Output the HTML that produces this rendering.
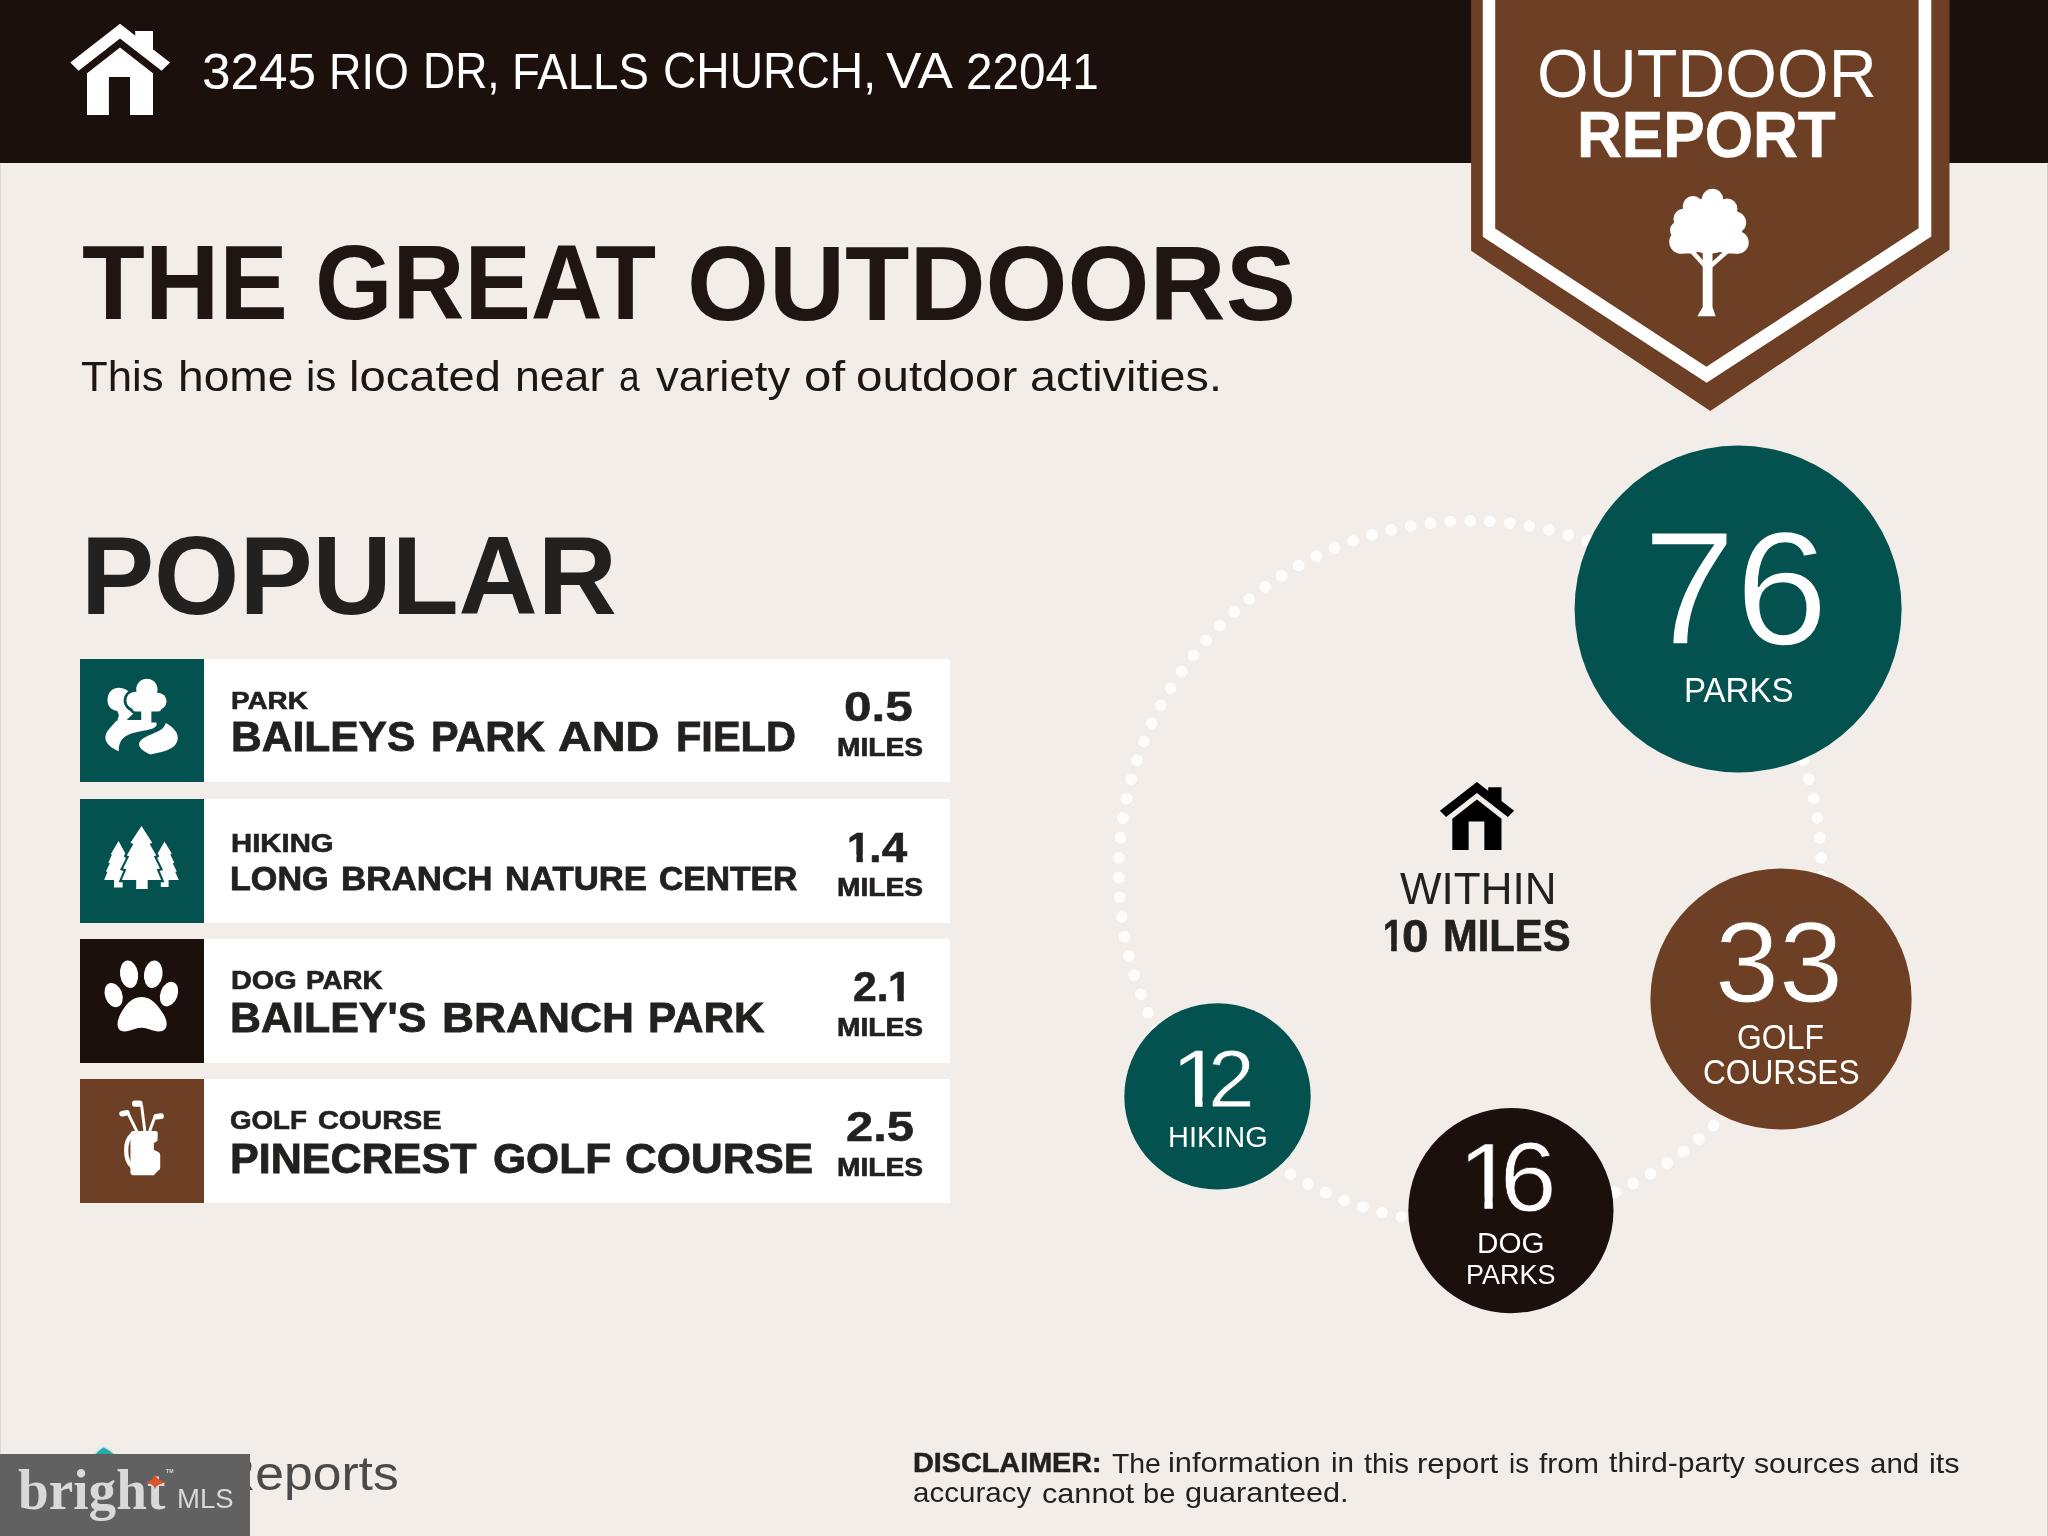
<!DOCTYPE html>
<html><head><meta charset="utf-8"><title>Outdoor Report</title>
<style>
html,body{margin:0;padding:0}
body{width:2048px;height:1536px;background:#f2ede9;position:relative;overflow:hidden;font-family:"Liberation Sans",sans-serif}
.hdr{position:absolute;left:0;top:0;width:2048px;height:163px;background:#1c100c}
.gfx{position:absolute;left:0;top:0}
.t{position:absolute;white-space:pre;transform-origin:0 0;line-height:1}
.txt{position:absolute;left:0;top:0;width:2048px;height:1536px;will-change:transform}
.bar{position:absolute;left:204px;width:746.1px;height:123.5px;background:#fff}
.ibox{position:absolute;left:80.4px;width:123.9px;height:123.5px}
.wm{position:absolute;left:0;top:1454px;width:250px;height:82px;background:#616161;z-index:4}
.star{position:absolute;left:0;top:0;z-index:6}
</style></head><body>
<div class="hdr"></div>
<div style="position:absolute;left:0;top:164px;width:1px;height:1290px;background:#ddd8d5"></div><div style="position:absolute;left:2047px;top:164px;width:1px;height:1372px;background:#cfcac7"></div>
<div class="bar" style="top:658.8px"></div><div class="ibox" style="top:658.8px;background:#03524f"></div>
<div class="bar" style="top:799.0px"></div><div class="ibox" style="top:799.0px;background:#03524f"></div>
<div class="bar" style="top:939.3px"></div><div class="ibox" style="top:939.3px;background:#1c100c"></div>
<div class="bar" style="top:1079.4px"></div><div class="ibox" style="top:1079.4px;background:#6d4025"></div>
<svg class="gfx" width="2048" height="1536" viewBox="0 0 2048 1536">
<polygon points="1471.1,0 1949.5,0 1949.5,249.8 1710.3,411 1471.1,250.8" fill="#6d4025"/>
<path d="M1482.8 0 L1482.8 236.8 L1706.6 382.8 L1931.3 236.5 L1931.3 0 L1918.6 0 L1918.6 228.3 L1706.4 366.7 L1495.2 228.6 L1495.2 0 Z" fill="#fff"/>
<g transform="translate(1650,180) scale(0.09766)">
<g fill="#fff">
<circle cx="640" cy="200" r="110"/><circle cx="440" cy="270" r="105"/><circle cx="790" cy="295" r="105"/>
<circle cx="345" cy="400" r="105"/><circle cx="875" cy="435" r="110"/>
<circle cx="300" cy="515" r="95"/><circle cx="315" cy="635" r="118"/><circle cx="895" cy="640" r="116"/>
<ellipse cx="605" cy="470" rx="345" ry="285"/>
<path d="M250 600 L960 600 L900 752 L800 752 L700 735 L500 735 L420 752 L300 752 Z"/>
<path d="M540 740 L640 740 L640 1300 L672 1395 L485 1395 L540 1300 Z"/>
</g>
<g fill="none" stroke="#fff" stroke-width="46">
<path d="M575 890 L415 715"/><path d="M610 890 L790 730"/>
</g>
</g>
<polygon points="120.00,23.75 170.00,62.50 161.60,70.75 120.00,38.60 78.60,70.75 70.30,62.50" fill="#fff"/><polygon points="135.20,31.00 153.00,31.00 153.00,52.00 135.20,38.00" fill="#fff"/><polygon points="120.00,47.50 153.00,73.30 153.00,115.00 130.00,115.00 130.00,77.00 108.90,77.00 108.90,115.00 87.00,115.00 87.00,73.30" fill="#fff"/>
<polygon points="1476.90,781.90 1514.15,810.77 1507.89,816.91 1476.90,792.96 1446.06,816.91 1439.87,810.77" fill="#000"/><polygon points="1488.22,787.30 1501.49,787.30 1501.49,802.95 1488.22,792.52" fill="#000"/><polygon points="1476.90,799.59 1501.49,818.81 1501.49,849.88 1484.35,849.88 1484.35,821.57 1468.63,821.57 1468.63,849.88 1452.32,849.88 1452.32,818.81" fill="#000"/>
<circle cx="1470.1" cy="872.3" r="351.4" fill="none" stroke="#fffdfb" stroke-width="11.6" stroke-linecap="round" stroke-dasharray="0 19.8913" transform="rotate(0.703 1470.1 872.3)"/>
<circle cx="1738.1" cy="609" r="163.5" fill="#03524f"/>
<circle cx="1781" cy="999" r="130.6" fill="#6d4025"/>
<circle cx="1217.5" cy="1096.4" r="93.2" fill="#03524f"/>
<circle cx="1510.9" cy="1210.6" r="102.6" fill="#1c100c"/>
<g transform="translate(80,657.8) scale(0.08203)">
<g fill="#fff">
<path d="M470 365 C 600 365, 650 470, 620 560 L 650 690 L 575 750 L 575 810 L 440 810 L 475 700 L 455 650 C 380 640, 335 590, 335 515 C 335 430, 390 365, 470 365 Z"/>
<path d="M440 770 C 560 800, 760 790, 930 790 C 960 870, 820 880, 700 905 C 540 935, 470 1000, 472 1140 C 380 1100, 300 1040, 310 960 C 320 880, 400 830, 440 770 Z"/>
<path d="M1045 795 C 1150 850, 1215 930, 1185 1020 C 1150 1120, 1000 1150, 860 1178 C 760 1140, 700 1080, 725 1030 C 760 960, 900 930, 980 880 C 1020 855, 1035 830, 1045 795 Z"/>
</g>
<rect x="560" y="756" width="200" height="60" fill="#fff"/>
<g fill="#03524f" stroke="#03524f" stroke-width="66">
<circle cx="815" cy="385" r="130"/><circle cx="670" cy="520" r="105"/><circle cx="950" cy="530" r="105"/>
<rect x="640" y="520" width="350" height="135" rx="40"/>
<rect x="745" y="600" width="125" height="122"/>
</g>
<g fill="#fff">
<circle cx="815" cy="385" r="130"/><circle cx="670" cy="520" r="105"/><circle cx="950" cy="530" r="105"/>
<rect x="640" y="520" width="350" height="135" rx="40"/>
<rect x="700" y="400" width="220" height="200"/>
<rect x="745" y="600" width="125" height="230"/>
</g>
<path d="M578 756 L745 756 L745 680 L650 680 Z" fill="#03524f"/>
</g><g transform="translate(80,798.0) scale(0.08203)">
<g fill="#fff">
<path d="M470 525 L560 690 L540 700 L600 810 L510 1000 L520 1000 L520 1090 L415 1090 L415 1000 L295 1000 L335 900 L315 895 L365 795 L345 790 L390 690 L375 685 Z"/>
<path d="M1030 530 L1120 680 L1100 690 L1150 790 L1130 795 L1180 895 L1160 900 L1205 1000 L1080 1000 L1080 1085 L985 1085 L985 1000 L990 1000 L900 810 L960 700 L940 690 Z"/>
</g>
<path d="M750 340 L880 545 L850 560 L930 700 L900 710 L975 860 L935 870 L990 1000 L825 1000 L825 1110 L685 1110 L685 1000 L510 1000 L565 870 L525 860 L600 710 L570 700 L650 560 L615 545 Z" fill="#fff" stroke="#03524f" stroke-width="52" paint-order="stroke"/>
</g><g transform="translate(80,938.3) scale(0.08203)">
<g fill="#fff">
<ellipse cx="410" cy="692" rx="105" ry="152" transform="rotate(-20 410 692)"/>
<ellipse cx="598" cy="438" rx="110" ry="168" transform="rotate(-8 598 438)"/>
<ellipse cx="893" cy="438" rx="113" ry="168" transform="rotate(8 893 438)"/>
<ellipse cx="1085" cy="680" rx="105" ry="155" transform="rotate(20 1085 680)"/>
<path d="M750 715 C 880 715, 960 830, 1020 930 C 1080 1030, 1070 1135, 960 1135 C 880 1135, 830 1090, 750 1090 C 670 1090, 620 1135, 545 1135 C 440 1135, 440 1030, 490 930 C 540 830, 620 715, 750 715 Z"/>
</g>
</g><g transform="translate(80,1078.4) scale(0.08203)">
<g fill="none" stroke="#fff" stroke-width="36" stroke-linecap="round">
<path d="M690 640 L595 445"/>
<path d="M790 640 L752 335"/>
<path d="M850 640 L912 470"/>
<path d="M632 690 C 540 760, 540 1000, 632 1068" stroke-width="52"/>
</g>
<g fill="#fff">
<rect x="478" y="392" width="130" height="68" rx="34" transform="rotate(-10 540 426)"/>
<rect x="633" y="268" width="130" height="78" rx="38"/>
<rect x="895" y="428" width="128" height="70" rx="35" transform="rotate(-8 960 463)"/>
<path d="M650 640 L920 640 Q950 640 948 675 L945 760 L900 790 L900 870 L960 900 Q978 910 978 940 L978 1090 Q978 1120 950 1125 L900 1180 L650 1180 Q615 1180 615 1140 L615 680 Q615 640 650 640 Z"/>
</g>
</g>
<path d="M93 1457 Q97 1450 103.75 1446.6 Q111 1450 118 1457 Z" fill="#2aa9a6" stroke="#c9ebe8" stroke-width="1.2"/>
</svg>
<div class="txt">
<div class="t" id="addr0" style="left:202.08px;top:47.70px;font:400 49.82px/1 'Liberation Sans', sans-serif;color:#fff;transform:scaleX(1.0294);">3245</div>
<div class="t" id="addr1" style="left:329.24px;top:47.70px;font:400 49.82px/1 'Liberation Sans', sans-serif;color:#fff;transform:scaleX(0.9018);">RIO</div>
<div class="t" id="addr2" style="left:422.77px;top:46.88px;font:400 49.82px/1 'Liberation Sans', sans-serif;color:#fff;transform:scaleX(0.8938);">DR,</div>
<div class="t" id="addr3" style="left:512.20px;top:47.70px;font:400 49.82px/1 'Liberation Sans', sans-serif;color:#fff;transform:scaleX(0.9147);">FALLS</div>
<div class="t" id="addr4" style="left:662.68px;top:47.43px;font:400 49.82px/1 'Liberation Sans', sans-serif;color:#fff;transform:scaleX(0.9273);">CHURCH,</div>
<div class="t" id="addr5" style="left:886.24px;top:47.20px;font:400 49.82px/1 'Liberation Sans', sans-serif;color:#fff;transform:scaleX(1.0658);">VA</div>
<div class="t" id="addr6" style="left:965.60px;top:47.70px;font:400 49.82px/1 'Liberation Sans', sans-serif;color:#fff;transform:scaleX(0.9579);">22041</div>
<div class="t" id="outdoor" style="left:1536.84px;top:39.16px;font:400 69.18px/1 'Liberation Sans', sans-serif;color:#fff;transform:scaleX(0.9609);">OUTDOOR</div>
<div class="t" id="report" style="left:1577.37px;top:101.92px;font:700 65.31px/1 'Liberation Sans', sans-serif;color:#fff;transform:scaleX(0.9508);-webkit-text-stroke:0.63px #fff;">REPORT</div>
<div class="t" id="the" style="left:81.97px;top:229.09px;font:700 106.04px/1 'Liberation Sans', sans-serif;color:#1f1511;transform:scaleX(0.9711);">THE</div>
<div class="t" id="great" style="left:314.51px;top:229.09px;font:700 106.04px/1 'Liberation Sans', sans-serif;color:#1f1511;transform:scaleX(0.9392);">GREAT</div>
<div class="t" id="outdoors" style="left:686.57px;top:229.54px;font:700 106.04px/1 'Liberation Sans', sans-serif;color:#1f1511;transform:scaleX(0.9941);">OUTDOORS</div>
<div class="t" id="sub0" style="left:81.01px;top:356.07px;font:400 42.30px/1 'Liberation Sans', sans-serif;color:#1f1511;transform:scaleX(1.0321);">This</div>
<div class="t" id="sub1" style="left:177.72px;top:356.07px;font:400 42.30px/1 'Liberation Sans', sans-serif;color:#1f1511;transform:scaleX(1.0896);">home</div>
<div class="t" id="sub2" style="left:306.06px;top:356.07px;font:400 42.30px/1 'Liberation Sans', sans-serif;color:#1f1511;transform:scaleX(0.9927);">is</div>
<div class="t" id="sub3" style="left:349.31px;top:356.20px;font:400 42.30px/1 'Liberation Sans', sans-serif;color:#1f1511;transform:scaleX(1.1143);">located</div>
<div class="t" id="sub4" style="left:515.43px;top:356.04px;font:400 42.30px/1 'Liberation Sans', sans-serif;color:#1f1511;transform:scaleX(1.0545);">near</div>
<div class="t" id="sub5" style="left:619.31px;top:356.04px;font:400 42.30px/1 'Liberation Sans', sans-serif;color:#1f1511;transform:scaleX(0.8769);">a</div>
<div class="t" id="sub6" style="left:655.89px;top:355.75px;font:400 42.30px/1 'Liberation Sans', sans-serif;color:#1f1511;transform:scaleX(1.0775);">variety</div>
<div class="t" id="sub7" style="left:804.35px;top:356.12px;font:400 42.30px/1 'Liberation Sans', sans-serif;color:#1f1511;transform:scaleX(1.1641);">of</div>
<div class="t" id="sub8" style="left:855.98px;top:356.07px;font:400 42.30px/1 'Liberation Sans', sans-serif;color:#1f1511;transform:scaleX(1.1244);">outdoor</div>
<div class="t" id="sub9" style="left:1029.51px;top:356.07px;font:400 42.30px/1 'Liberation Sans', sans-serif;color:#1f1511;transform:scaleX(1.1030);">activities.</div>
<div class="t" id="popular" style="left:80.79px;top:520.78px;font:700 110.84px/1 'Liberation Sans', sans-serif;color:#232020;transform:scaleX(0.9891);">POPULAR</div>
<div class="t" id="c1" style="left:230.96px;top:688.71px;font:700 24.44px/1 'Liberation Sans', sans-serif;color:#232020;transform:scaleX(1.1396);-webkit-text-stroke:0.61px #232020;">PARK</div>
<div class="t" id="n10" style="left:230.51px;top:716.01px;font:700 41.75px/1 'Liberation Sans', sans-serif;color:#232020;transform:scaleX(1.0183);-webkit-text-stroke:0.79px #232020;">BAILEYS</div>
<div class="t" id="n11" style="left:430.59px;top:716.01px;font:700 41.75px/1 'Liberation Sans', sans-serif;color:#232020;transform:scaleX(0.9895);-webkit-text-stroke:0.81px #232020;">PARK</div>
<div class="t" id="n12" style="left:558.23px;top:716.01px;font:700 41.75px/1 'Liberation Sans', sans-serif;color:#232020;transform:scaleX(1.1202);-webkit-text-stroke:0.71px #232020;">AND</div>
<div class="t" id="n13" style="left:675.56px;top:716.01px;font:700 41.75px/1 'Liberation Sans', sans-serif;color:#232020;transform:scaleX(0.9946);-webkit-text-stroke:0.80px #232020;">FIELD</div>
<div class="t" id="d1" style="left:844.11px;top:685.37px;font:700 42.72px/1 'Liberation Sans', sans-serif;color:#232020;transform:scaleX(1.1564);-webkit-text-stroke:0.52px #232020;">0.5</div>
<div class="t" id="m1" style="left:836.82px;top:734.56px;font:700 25.75px/1 'Liberation Sans', sans-serif;color:#232020;transform:scaleX(1.0928);-webkit-text-stroke:0.64px #232020;">MILES</div>
<div class="t" id="c2" style="left:230.84px;top:831.18px;font:700 25.31px/1 'Liberation Sans', sans-serif;color:#232020;transform:scaleX(1.1589);-webkit-text-stroke:0.60px #232020;">HIKING</div>
<div class="t" id="n20" style="left:230.07px;top:861.61px;font:700 33.60px/1 'Liberation Sans', sans-serif;color:#232020;transform:scaleX(1.0169);-webkit-text-stroke:0.79px #232020;">LONG</div>
<div class="t" id="n21" style="left:341.02px;top:861.61px;font:700 33.60px/1 'Liberation Sans', sans-serif;color:#232020;transform:scaleX(1.0403);-webkit-text-stroke:0.77px #232020;">BRANCH</div>
<div class="t" id="n22" style="left:505.24px;top:861.78px;font:700 33.60px/1 'Liberation Sans', sans-serif;color:#232020;transform:scaleX(1.0322);-webkit-text-stroke:0.78px #232020;">NATURE</div>
<div class="t" id="n23" style="left:659.45px;top:861.61px;font:700 33.60px/1 'Liberation Sans', sans-serif;color:#232020;transform:scaleX(1.0009);-webkit-text-stroke:0.80px #232020;">CENTER</div>
<div class="t" id="d2a" style="left:847.19px;top:826.51px;font:700 42.33px/1 'Liberation Sans', sans-serif;color:#232020;transform:scaleX(0.9876);clip-path:polygon(0 0,100% 0,100% 0.6644em,0.3783em 0.6644em,0.3783em 0.8576em,0.2257em 0.8576em,0.2257em 0.6644em,0 0.6644em);-webkit-text-stroke:0.61px #232020;">1</div>
<div class="t" id="d2b" style="left:868.50px;top:826.52px;font:700 42.33px/1 'Liberation Sans', sans-serif;color:#232020;transform:scaleX(1.0818);-webkit-text-stroke:0.55px #232020;">.4</div>
<div class="t" id="m2" style="left:836.82px;top:875.18px;font:700 25.89px/1 'Liberation Sans', sans-serif;color:#232020;transform:scaleX(1.0867);-webkit-text-stroke:0.64px #232020;">MILES</div>
<div class="t" id="c30" style="left:230.85px;top:967.92px;font:700 25.53px/1 'Liberation Sans', sans-serif;color:#232020;transform:scaleX(1.1285);-webkit-text-stroke:0.62px #232020;">DOG</div>
<div class="t" id="c31" style="left:305.95px;top:967.92px;font:700 25.53px/1 'Liberation Sans', sans-serif;color:#232020;transform:scaleX(1.0868);-webkit-text-stroke:0.64px #232020;">PARK</div>
<div class="t" id="n30" style="left:230.48px;top:997.01px;font:700 41.75px/1 'Liberation Sans', sans-serif;color:#232020;transform:scaleX(1.0286);-webkit-text-stroke:0.78px #232020;">BAILEY'S</div>
<div class="t" id="n31" style="left:441.58px;top:997.01px;font:700 41.75px/1 'Liberation Sans', sans-serif;color:#232020;transform:scaleX(1.0617);-webkit-text-stroke:0.75px #232020;">BRANCH</div>
<div class="t" id="n32" style="left:647.94px;top:997.01px;font:700 41.75px/1 'Liberation Sans', sans-serif;color:#232020;transform:scaleX(1.0109);-webkit-text-stroke:0.79px #232020;">PARK</div>
<div class="t" id="d3a" style="left:853.08px;top:966.06px;font:700 42.04px/1 'Liberation Sans', sans-serif;color:#232020;transform:scaleX(1.0169);-webkit-text-stroke:0.59px #232020;">2.</div>
<div class="t" id="d3b" style="left:887.59px;top:966.26px;font:700 42.04px/1 'Liberation Sans', sans-serif;color:#232020;transform:scaleX(0.9945);clip-path:polygon(0 0,100% 0,100% 0.6644em,0.3783em 0.6644em,0.3783em 0.8576em,0.2257em 0.8576em,0.2257em 0.6644em,0 0.6644em);-webkit-text-stroke:0.60px #232020;">1</div>
<div class="t" id="m3" style="left:836.82px;top:1014.56px;font:700 25.75px/1 'Liberation Sans', sans-serif;color:#232020;transform:scaleX(1.0928);-webkit-text-stroke:0.64px #232020;">MILES</div>
<div class="t" id="c40" style="left:230.24px;top:1107.06px;font:700 26.33px/1 'Liberation Sans', sans-serif;color:#232020;transform:scaleX(1.0514);-webkit-text-stroke:0.67px #232020;">GOLF</div>
<div class="t" id="c41" style="left:317.69px;top:1107.06px;font:700 26.33px/1 'Liberation Sans', sans-serif;color:#232020;transform:scaleX(1.0970);-webkit-text-stroke:0.64px #232020;">COURSE</div>
<div class="t" id="n40" style="left:230.47px;top:1137.61px;font:700 41.75px/1 'Liberation Sans', sans-serif;color:#232020;transform:scaleX(1.0321);-webkit-text-stroke:0.78px #232020;">PINECREST</div>
<div class="t" id="n41" style="left:493.48px;top:1137.61px;font:700 41.75px/1 'Liberation Sans', sans-serif;color:#232020;transform:scaleX(1.0186);-webkit-text-stroke:0.79px #232020;">GOLF</div>
<div class="t" id="n42" style="left:624.83px;top:1137.61px;font:700 41.75px/1 'Liberation Sans', sans-serif;color:#232020;transform:scaleX(1.0529);-webkit-text-stroke:0.76px #232020;">COURSE</div>
<div class="t" id="d4" style="left:845.77px;top:1106.31px;font:700 42.01px/1 'Liberation Sans', sans-serif;color:#232020;transform:scaleX(1.1623);-webkit-text-stroke:0.52px #232020;">2.5</div>
<div class="t" id="m4" style="left:836.82px;top:1155.18px;font:700 25.89px/1 'Liberation Sans', sans-serif;color:#232020;transform:scaleX(1.0867);-webkit-text-stroke:0.64px #232020;">MILES</div>
<div class="t" id="k76" style="left:1643.47px;top:508.38px;font:400 161.58px/1 'Liberation Sans', sans-serif;color:#fff;transform:scaleX(1.0292);-webkit-text-stroke:1.36px #03524f;">76</div>
<div class="t" id="kparks" style="left:1683.74px;top:671.89px;font:400 35.93px/1 'Liberation Sans', sans-serif;color:#fff;transform:scaleX(0.9198);">PARKS</div>
<div class="t" id="k33" style="left:1714.84px;top:905.43px;font:400 115.41px/1 'Liberation Sans', sans-serif;color:#fff;transform:scaleX(0.9978);-webkit-text-stroke:1.00px #6d4025;">33</div>
<div class="t" id="kgolf" style="left:1736.79px;top:1020.11px;font:400 35.70px/1 'Liberation Sans', sans-serif;color:#fff;transform:scaleX(0.8940);">GOLF</div>
<div class="t" id="kcourses" style="left:1703.41px;top:1054.16px;font:400 34.98px/1 'Liberation Sans', sans-serif;color:#fff;transform:scaleX(0.9053);">COURSES</div>
<div class="t" id="k12a" style="left:1171.44px;top:1038.08px;font:400 81.83px/1 'Liberation Sans', sans-serif;color:#fff;transform:scaleX(1.1491);clip-path:polygon(0 0,100% 0,100% 0.7218em,0.3361em 0.7218em,0.3361em 0.8456em,0.2552em 0.8456em,0.2552em 0.7218em,0 0.7218em);-webkit-text-stroke:0.70px #03524f;">1</div>
<div class="t" id="k12b" style="left:1207.96px;top:1038.17px;font:400 81.43px/1 'Liberation Sans', sans-serif;color:#fff;transform:scaleX(1.0311);-webkit-text-stroke:0.78px #03524f;">2</div>
<div class="t" id="khiking" style="left:1167.59px;top:1122.26px;font:400 29.53px/1 'Liberation Sans', sans-serif;color:#fff;transform:scaleX(0.9808);">HIKING</div>
<div class="t" id="k16a" style="left:1458.09px;top:1128.73px;font:400 95.06px/1 'Liberation Sans', sans-serif;color:#fff;transform:scaleX(1.0883);clip-path:polygon(0 0,100% 0,100% 0.7218em,0.3365em 0.7218em,0.3365em 0.8463em,0.2548em 0.8463em,0.2548em 0.7218em,0 0.7218em);-webkit-text-stroke:0.74px #1c100c;">1</div>
<div class="t" id="k16b" style="left:1500.06px;top:1129.36px;font:400 97.49px/1 'Liberation Sans', sans-serif;color:#fff;transform:scaleX(1.0425);-webkit-text-stroke:0.77px #1c100c;">6</div>
<div class="t" id="kdog" style="left:1477.49px;top:1229.36px;font:400 29.10px/1 'Liberation Sans', sans-serif;color:#fff;transform:scaleX(1.0185);">DOG</div>
<div class="t" id="kdparks" style="left:1466.12px;top:1259.74px;font:400 28.36px/1 'Liberation Sans', sans-serif;color:#fff;transform:scaleX(0.9510);">PARKS</div>
<div class="t" id="within" style="left:1400.18px;top:867.07px;font:400 44.22px/1 'Liberation Sans', sans-serif;color:#232020;transform:scaleX(0.9953);">WITHIN</div>
<div class="t" id="ten1" style="left:1383.40px;top:913.99px;font:700 44.95px/1 'Liberation Sans', sans-serif;color:#232020;transform:scaleX(0.8085);clip-path:polygon(0 0,100% 0,100% 0.6644em,0.3794em 0.6644em,0.3794em 0.8572em,0.2246em 0.8572em,0.2246em 0.6644em,0 0.6644em);-webkit-text-stroke:0.74px #232020;">1</div>
<div class="t" id="ten0" style="left:1402.24px;top:913.56px;font:700 45.73px/1 'Liberation Sans', sans-serif;color:#232020;transform:scaleX(1.0413);-webkit-text-stroke:0.58px #232020;">0</div>
<div class="t" id="tenmiles" style="left:1442.56px;top:913.50px;font:700 44.95px/1 'Liberation Sans', sans-serif;color:#232020;transform:scaleX(0.9289);-webkit-text-stroke:0.65px #232020;">MILES</div>
<div class="t" id="reports" style="left:217.74px;top:1448.77px;font:400 48.53px/1 'Liberation Sans', sans-serif;color:#4a4a4a;transform:scaleX(1.0641);">Reports</div>
<div class="t" id="disc" style="left:912.79px;top:1448.90px;font:700 27.35px/1 'Liberation Sans', sans-serif;color:#232020;transform:scaleX(1.0527);-webkit-text-stroke:0.47px #232020;">DISCLAIMER:</div>
<div class="t" id="da0" style="left:1112.35px;top:1449.61px;font:400 27.40px/1 'Liberation Sans', sans-serif;color:#232020;transform:scaleX(1.0353);">The</div>
<div class="t" id="da1" style="left:1168.40px;top:1449.11px;font:400 27.40px/1 'Liberation Sans', sans-serif;color:#232020;transform:scaleX(1.1257);">information</div>
<div class="t" id="da2" style="left:1330.81px;top:1449.47px;font:400 27.40px/1 'Liberation Sans', sans-serif;color:#232020;transform:scaleX(1.0807);">in</div>
<div class="t" id="da3" style="left:1364.06px;top:1449.61px;font:400 27.40px/1 'Liberation Sans', sans-serif;color:#232020;transform:scaleX(1.0552);">this</div>
<div class="t" id="da4" style="left:1417.45px;top:1449.91px;font:400 27.40px/1 'Liberation Sans', sans-serif;color:#232020;transform:scaleX(1.1353);">report</div>
<div class="t" id="da5" style="left:1508.99px;top:1449.61px;font:400 27.40px/1 'Liberation Sans', sans-serif;color:#232020;transform:scaleX(1.0073);">is</div>
<div class="t" id="da6" style="left:1539.04px;top:1449.64px;font:400 27.40px/1 'Liberation Sans', sans-serif;color:#232020;transform:scaleX(1.0935);">from</div>
<div class="t" id="da7" style="left:1609.04px;top:1449.32px;font:400 27.40px/1 'Liberation Sans', sans-serif;color:#232020;transform:scaleX(1.1027);">third-party</div>
<div class="t" id="da8" style="left:1754.16px;top:1449.68px;font:400 27.40px/1 'Liberation Sans', sans-serif;color:#232020;transform:scaleX(1.1034);">sources</div>
<div class="t" id="da9" style="left:1869.71px;top:1449.61px;font:400 27.40px/1 'Liberation Sans', sans-serif;color:#232020;transform:scaleX(1.0755);">and</div>
<div class="t" id="da10" style="left:1928.84px;top:1449.61px;font:400 27.40px/1 'Liberation Sans', sans-serif;color:#232020;transform:scaleX(1.1204);">its</div>
<div class="t" id="db0" style="left:913.24px;top:1479.38px;font:400 27.40px/1 'Liberation Sans', sans-serif;color:#232020;transform:scaleX(1.0790);">accuracy</div>
<div class="t" id="db1" style="left:1041.69px;top:1480.21px;font:400 27.40px/1 'Liberation Sans', sans-serif;color:#232020;transform:scaleX(1.1188);">cannot</div>
<div class="t" id="db2" style="left:1142.99px;top:1479.61px;font:400 27.40px/1 'Liberation Sans', sans-serif;color:#232020;transform:scaleX(1.0602);">be</div>
<div class="t" id="db3" style="left:1185.19px;top:1479.32px;font:400 27.40px/1 'Liberation Sans', sans-serif;color:#232020;transform:scaleX(1.1184);">guaranteed.</div>
</div>
<div class="wm"></div>
<div class="txt" style="z-index:5">
<div class="t" id="bright" style="left:17.60px;top:1461.58px;font:700 56.69px/1 'Liberation Serif', serif;color:#d9d9d9;transform:scaleX(0.9743);z-index:5;">bright</div>
<div class="t" id="mls" style="left:176.93px;top:1485.11px;font:400 27.64px/1 'Liberation Sans', sans-serif;color:#d9d9d9;transform:scaleX(0.9954);z-index:5;">MLS</div>
<div class="t" id="tm" style="left:165.94px;top:1468.99px;font:700 5.38px/1 'Liberation Sans', sans-serif;color:#d9d9d9;transform:scaleX(0.9662);z-index:5;">TM</div>
</div>
<svg class="star" width="2048" height="1536" viewBox="0 0 2048 1536"><path d="M155 1474 Q156.5 1480.8 167 1482.25 Q156.5 1483.7 155 1489 Q153.5 1483.7 145.5 1482.25 Q153.5 1480.8 155 1474 Z" fill="#d8552c"/></svg>
</body></html>
